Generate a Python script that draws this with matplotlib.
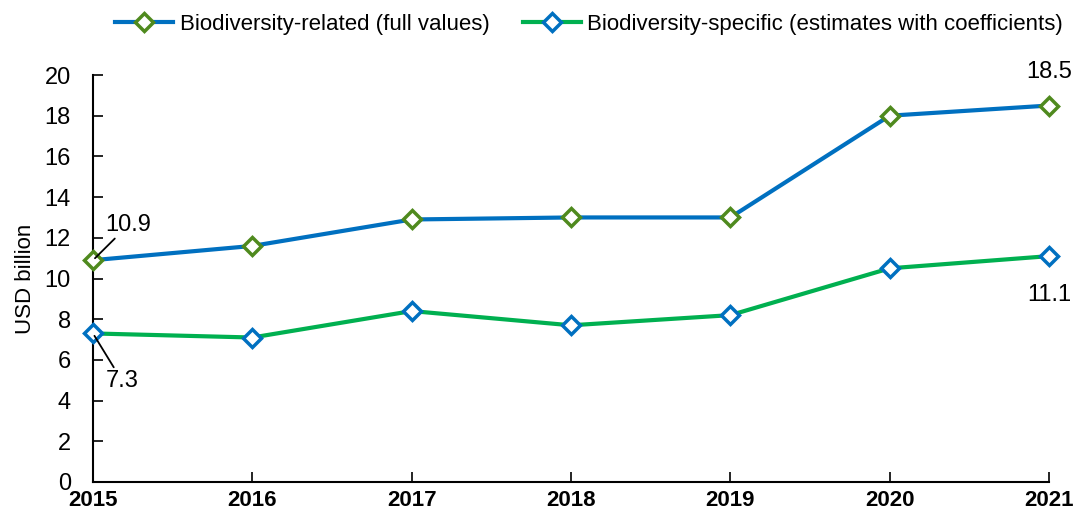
import matplotlib
matplotlib.use('Agg')
import matplotlib.pyplot as plt

plt.rcParams['font.family'] = ['Liberation Sans', 'DejaVu Sans']

years = [2015, 2016, 2017, 2018, 2019, 2020, 2021]
related = [10.9, 11.6, 12.9, 13.0, 13.0, 18.0, 18.5]
specific = [7.3, 7.1, 8.4, 7.7, 8.2, 10.5, 11.1]

BLUE = '#0070C0'
GREEN = '#00B050'
OLIVE = '#4F8A1E'

fig = plt.figure(figsize=(10.75, 5.17), dpi=100)
ax = fig.add_axes([93 / 1075, 35 / 517, 956 / 1075, 407 / 517])

ax.plot(years, related, color=BLUE, lw=3, marker='D', ms=9, mfc='white',
        mec=OLIVE, mew=2.5, label='Biodiversity-related (full values)',
        clip_on=False, zorder=3)
ax.plot(years, specific, color=GREEN, lw=3, marker='D', ms=9, mfc='white',
        mec=BLUE, mew=2.5, label='Biodiversity-specific (estimates with coefficients)',
        clip_on=False, zorder=3)

ax.set_xlim(2015, 2021)
ax.set_ylim(0, 20)
ax.set_xticks(years)
ax.set_yticks(range(0, 21, 2))
ax.tick_params(axis='both', direction='in', length=7, width=1.2)
ax.tick_params(axis='x', pad=6, labelsize=16)
ax.tick_params(axis='y', pad=16, labelsize=17)
for lbl in ax.get_xticklabels():
    lbl.set_fontweight('bold')
for s in ['top', 'right']:
    ax.spines[s].set_visible(False)
for s in ['left', 'bottom']:
    ax.spines[s].set_linewidth(1.5)
ax.set_ylabel('USD billion', fontsize=16, labelpad=6)

# value labels
ax.annotate(f'{related[0]}', xy=(years[0], related[0]), xytext=(years[0] + 0.08, related[0] + 1.2),
            fontsize=17, ha='left', va='bottom',
            arrowprops=dict(arrowstyle='-', color='black', lw=1.3, shrinkA=0, shrinkB=2))
ax.annotate(f'{specific[0]}', xy=(years[0], specific[0]), xytext=(years[0] + 0.08, specific[0] - 1.8),
            fontsize=17, ha='left', va='top',
            arrowprops=dict(arrowstyle='-', color='black', lw=1.3, shrinkA=0, shrinkB=2))
ax.annotate(f'{related[-1]}', xy=(years[-1], related[-1]), xytext=(0, 16),
            textcoords='offset points', fontsize=17, ha='center', va='bottom')
ax.annotate(f'{specific[-1]}', xy=(years[-1], specific[-1]), xytext=(0, -20),
            textcoords='offset points', fontsize=17, ha='center', va='top')

fig.legend(loc='upper center', bbox_to_anchor=(0.548, 1.012), ncol=2, frameon=False,
           fontsize=16, handlelength=2.6, columnspacing=1.5, handletextpad=0.3)

fig.savefig('out.png', dpi=100)
